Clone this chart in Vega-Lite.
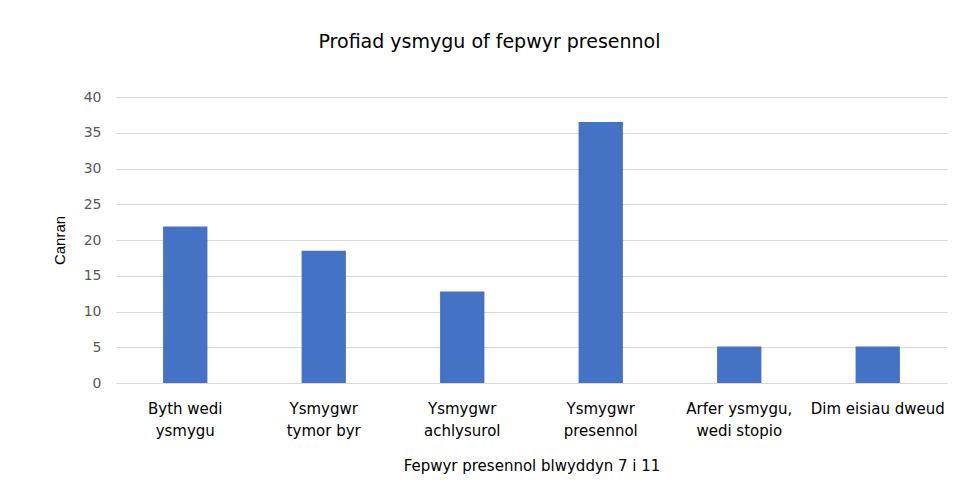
{
  "$schema": "https://vega.github.io/schema/vega-lite/v6.json",
  "autosize": {"type": "none"},
  "padding": {"left": 116, "top": 97, "right": 29, "bottom": 119},
  "width": 831,
  "height": 286,
  "background": "white",
  "title": {
    "text": "Profiad ysmygu of fepwyr presennol",
    "font": "DejaVu Sans",
    "fontSize": 19,
    "fontWeight": "normal",
    "color": "#000000",
    "anchor": "middle",
    "dx": -42,
    "offset": 38
  },
  "data": {
    "values": [
      {"category": "Byth wedi ysmygu", "value": 21.9},
      {"category": "Ysmygwr tymor byr", "value": 18.5},
      {"category": "Ysmygwr achlysurol", "value": 12.8},
      {"category": "Ysmygwr presennol", "value": 36.5},
      {"category": "Arfer ysmygu, wedi stopio", "value": 5.1},
      {"category": "Dim eisiau dweud", "value": 5.1}
    ]
  },
  "mark": {"type": "bar", "color": "#4472C4"},
  "encoding": {
    "x": {
      "field": "category",
      "type": "nominal",
      "sort": null,
      "scale": {"paddingInner": 0.68, "paddingOuter": 0.34},
      "axis": {
        "title": "Fepwyr presennol blwyddyn 7 i 11",
        "titleFont": "DejaVu Sans",
        "titleFontSize": 15,
        "titleFontWeight": "normal",
        "titleColor": "#000000",
        "titlePadding": 20,
        "labelAngle": 0,
        "labelFont": "DejaVu Sans",
        "labelFontSize": 15,
        "labelColor": "#000000",
        "labelPadding": 18,
        "labelLineHeight": 22,
        "labelBaseline": "top",
        "ticks": false,
        "domain": false,
        "labelExpr": "datum.value == 'Byth wedi ysmygu' ? ['Byth wedi', 'ysmygu'] : datum.value == 'Ysmygwr tymor byr' ? ['Ysmygwr', 'tymor byr'] : datum.value == 'Ysmygwr achlysurol' ? ['Ysmygwr', 'achlysurol'] : datum.value == 'Ysmygwr presennol' ? ['Ysmygwr', 'presennol'] : datum.value == 'Arfer ysmygu, wedi stopio' ? ['Arfer ysmygu,', 'wedi stopio'] : datum.value"
      }
    },
    "y": {
      "field": "value",
      "type": "quantitative",
      "scale": {"domain": [0, 40]},
      "axis": {
        "title": "Canran",
        "titleFont": "Liberation Sans",
        "titleFontSize": 15,
        "titleFontWeight": "normal",
        "titleColor": "#000000",
        "titlePadding": 16,
        "values": [0, 5, 10, 15, 20, 25, 30, 35, 40],
        "labelFont": "DejaVu Sans",
        "labelFontSize": 14,
        "labelColor": "#595959",
        "labelPadding": 15,
        "ticks": false,
        "domain": false,
        "grid": true,
        "gridColor": "#d9d9d9",
        "gridWidth": 1
      }
    }
  },
  "config": {"view": {"stroke": null}}
}
